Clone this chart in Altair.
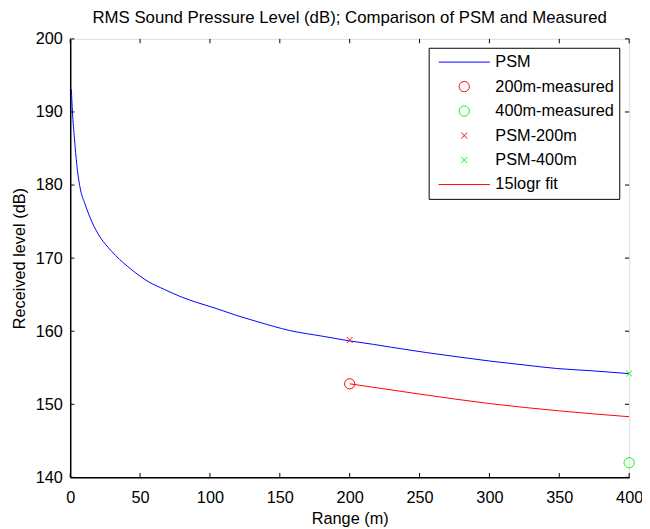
import altair as alt
import pandas as pd

# ---------------- data ----------------
psm_r = [0.8, 1.6, 3.0, 4.7, 7.1, 10.6, 14.1, 20, 27, 32.3, 44, 55.8, 67.6, 79.4, 91.2,
         103, 120, 134, 157, 181, 199, 217, 230, 254, 277, 301, 324, 348, 372, 400]
psm_db = [193.1, 190.0, 186.4, 182.8, 179.6, 177.4, 175.6, 173.3, 171.5, 170.4, 168.4,
          166.8, 165.7, 164.7, 163.9, 163.2, 162.1, 161.3, 160.1, 159.3, 158.7, 158.2,
          157.8, 157.1, 156.5, 155.9, 155.4, 154.9, 154.6, 154.2]

fit_r = [200, 250, 300, 350, 400]
fit_db = [152.8, 151.4, 150.1, 149.1, 148.3]

meas_names = ["200m-measured", "400m-measured"]
meas_r = [200, 400]
meas_db = [152.8, 142.0]

psmpt_names = ["PSM-200m", "PSM-400m"]
psmpt_r = [200, 400]
psmpt_db = [158.8, 154.2]

series = ["PSM", "200m-measured", "400m-measured", "PSM-200m", "PSM-400m", "15logr fit"]
colors = ["#0000ff", "#ff0000", "#00ff00", "#ff0000", "#00ff00", "#ff0000"]

# symbol paths (unit box scaled by the symbol size)
CIRC = "M0.2,0A0.2,0.2,0,1,1,-0.2,0A0.2,0.2,0,1,1,0.2,0Z"
XMARK = "M-0.115,-0.115L0.115,0.115M-0.115,0.115L0.115,-0.115"
LINE = "M-1,0L1,0"
shapes = [LINE, CIRC, CIRC, XMARK, XMARK, LINE]
SYM = 2700

x_ticks = [0, 50, 100, 150, 200, 250, 300, 350, 400]
y_ticks = [140, 150, 160, 170, 180, 190, 200]

FONT = "Liberation Sans"
FS = 16.5

# ---------------- tables ----------------
lines_df = pd.concat([
    pd.DataFrame({"r": psm_r, "db": psm_db, "series": "PSM"}),
    pd.DataFrame({"r": fit_r, "db": fit_db, "series": "15logr fit"}),
])
meas_df = pd.DataFrame({"r": meas_r, "db": meas_db, "series": meas_names})
psmpt_df = pd.DataFrame({"r": psmpt_r, "db": psmpt_db, "series": psmpt_names})

tick_rows = []
for v in x_ticks:
    tick_rows.append({"x": v, "x2": v, "y": 140, "y2": 140.6})
    tick_rows.append({"x": v, "x2": v, "y": 200, "y2": 199.4})
for v in y_ticks:
    tick_rows.append({"x": 0, "x2": 3.0, "y": v, "y2": v})
    tick_rows.append({"x": 400, "x2": 397.0, "y": v, "y2": v})
ticks_df = pd.DataFrame(tick_rows)

# ---------------- scales / axes ----------------
xscale = alt.Scale(domain=[0, 400], nice=False, zero=False)
yscale = alt.Scale(domain=[140, 200], nice=False, zero=False)
cscale = alt.Scale(domain=series, range=colors)
shscale = alt.Scale(domain=series, range=shapes)

xaxis = alt.Axis(values=x_ticks, grid=False, ticks=False, domainColor="black",
                 domainWidth=1.5, labelFont=FONT, labelFontSize=FS, labelColor="black",
                 labelPadding=12, title="Range (m)", titleFont=FONT, titleFontSize=FS,
                 titleFontWeight="normal", titleColor="black", titlePadding=5,
                 labelFlush=False)
yaxis = alt.Axis(values=y_ticks, grid=False, ticks=False, domainColor="black",
                 domainWidth=1.5, labelFont=FONT, labelFontSize=FS, labelColor="black",
                 labelPadding=8, title="Received level (dB)", titleFont=FONT,
                 titleFontSize=FS, titleFontWeight="normal", titleColor="black",
                 titlePadding=8, labelFlush=False)

legend = alt.Legend(
    title=None, orient="none", legendX=363, legendY=9,
    strokeColor="black", fillColor="white", padding=4.5, cornerRadius=0,
    labelFont=FONT, labelFontSize=FS, labelColor="black", labelOffset=5,
    labelExpr="datum.label + '\u00a0\u00a0'",
    clipHeight=20, rowPadding=4.8, symbolOffset=5, symbolSize=SYM,
    symbolStrokeWidth=1, symbolFillColor="transparent", symbolOpacity=1,
)

color_enc = alt.Color("series:N", scale=cscale, legend=legend)
shape_enc = alt.Shape("series:N", scale=shscale, legend=legend)

lines = alt.Chart(lines_df).mark_line(strokeWidth=1, interpolate="monotone").encode(
    x=alt.X("r:Q", scale=xscale, axis=xaxis),
    y=alt.Y("db:Q", scale=yscale, axis=yaxis),
    color=color_enc,
)

points = alt.Chart(pd.concat([meas_df, psmpt_df])).mark_point(
    filled=False, strokeWidth=1, opacity=1, size=SYM).encode(
    x=alt.X("r:Q", scale=xscale),
    y=alt.Y("db:Q", scale=yscale),
    color=color_enc,
    shape=shape_enc,
)

ticks = alt.Chart(ticks_df).mark_rule(color="black", strokeWidth=1).encode(
    x=alt.X("x:Q", scale=xscale),
    x2="x2:Q",
    y=alt.Y("y:Q", scale=yscale),
    y2="y2:Q",
)

chart = alt.layer(ticks, lines, points).properties(
    width=566, height=444,
    title=alt.Title("RMS Sound Pressure Level (dB); Comparison of PSM and Measured",
                    font=FONT, fontSize=17, fontWeight="normal", color="black",
                    anchor="middle", offset=4),
    autosize=alt.AutoSizeParams(type="none"),
    padding={"left": 63, "top": 28, "right": 13, "bottom": 49},
).configure_view(stroke="black", strokeWidth=1.5).configure(background="white")

chart.save("out.html", embed_options={"renderer": "svg", "actions": False})
